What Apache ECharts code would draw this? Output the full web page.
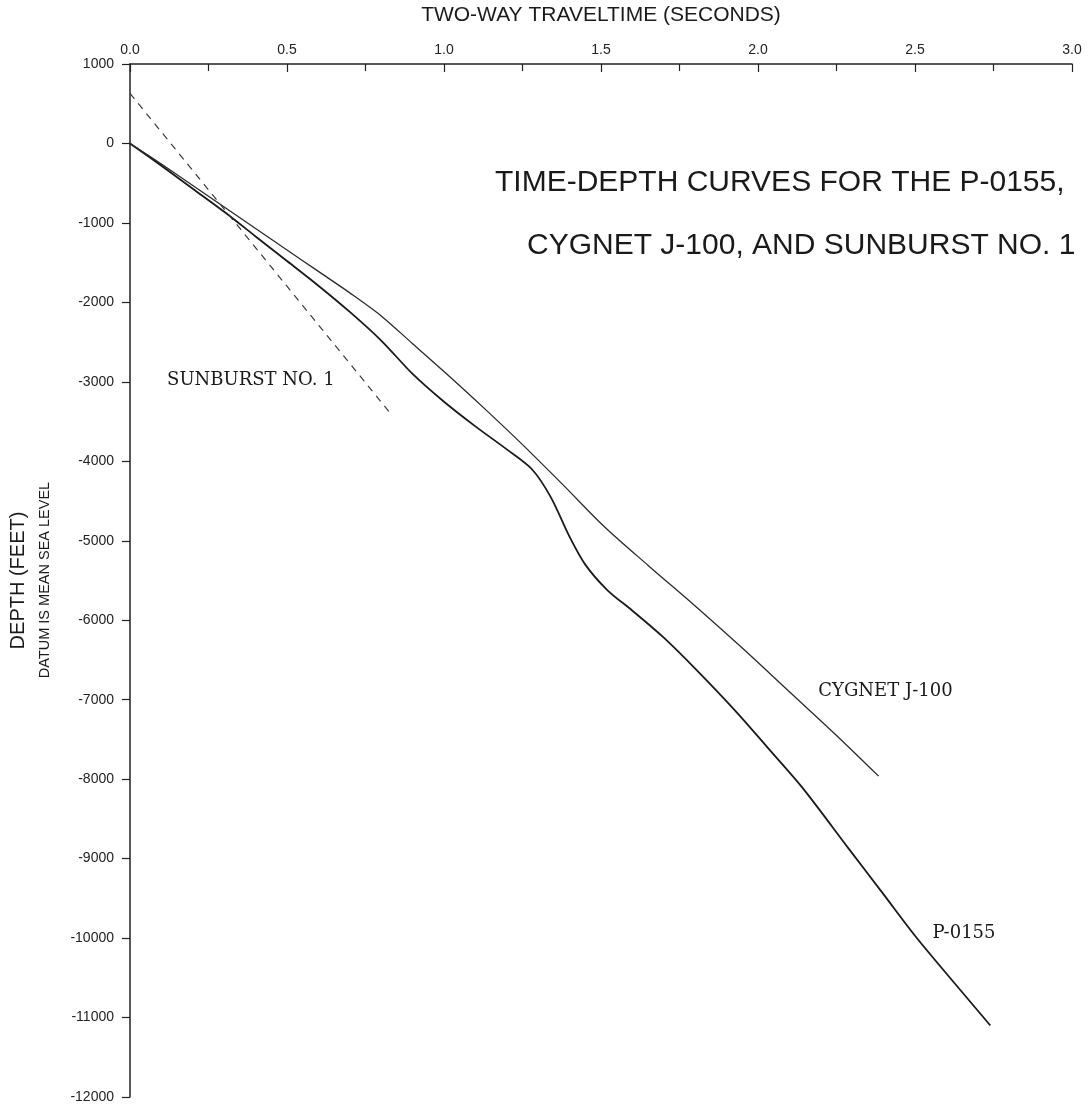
<!DOCTYPE html>
<html>
<head>
<meta charset="utf-8">
<style>
  html, body { margin: 0; padding: 0; background: #ffffff; }
  #chart { width: 1088px; height: 1104px; }
</style>
<script src="https://cdn.jsdelivr.net/npm/echarts@6/dist/echarts.min.js"></script>
</head>
<body>
<div id="chart"></div>
<script>
// ---- data (two-way traveltime in seconds, depth in feet relative to MSL) ----
const xTicks = [0, 0.5, 1.0, 1.5, 2.0, 2.5, 3.0];
const yTicks = [1000, 0, -1000, -2000, -3000, -4000, -5000, -6000, -7000, -8000, -9000, -10000, -11000, -12000];

const p0155Time  = [0, 0.10, 0.20, 0.30, 0.40, 0.50, 0.60, 0.70, 0.80, 0.90, 1.00, 1.10, 1.20, 1.28, 1.34, 1.40, 1.45, 1.52, 1.60, 1.70, 1.80, 1.93, 2.03, 2.14, 2.29, 2.40, 2.50, 2.62, 2.74];
const p0155Depth = [0, -280, -570, -860, -1170, -1480, -1790, -2120, -2480, -2900, -3250, -3560, -3850, -4100, -4450, -4950, -5300, -5620, -5880, -6220, -6610, -7150, -7600, -8100, -8880, -9450, -9970, -10540, -11100];

const cygnetTime  = [0, 0.10, 0.20, 0.30, 0.40, 0.50, 0.60, 0.70, 0.80, 0.90, 1.00, 1.13, 1.25, 1.38, 1.51, 1.65, 1.80, 1.95, 2.10, 2.25, 2.384];
const cygnetDepth = [0, -260, -530, -800, -1070, -1340, -1610, -1880, -2170, -2520, -2870, -3340, -3790, -4300, -4820, -5310, -5820, -6350, -6900, -7450, -7962];

const sunburstTime  = [0, 0.83];
const sunburstDepth = [630, -3400];

const seriesNames = ['P-0155', 'CYGNET J-100', 'SUNBURST NO. 1'];

const zip = (a, b) => a.map((v, i) => [v, b[i]]);

const chart = echarts.init(document.getElementById('chart'), null, { renderer: 'canvas' });

const sansFont = '"Liberation Sans", Arial, Helvetica, sans-serif';
const serifFont = '"DejaVu Serif", "Liberation Serif", serif';

function labelPoint(coord, text) {
  return {
    coord: coord,
    symbol: 'circle',
    symbolSize: 1,
    itemStyle: { color: 'rgba(0,0,0,0)' },
    label: {
      show: true, position: 'inside', formatter: text,
      fontFamily: serifFont, fontSize: 18, color: '#1a1a1a'
    }
  };
}

const option = {
  backgroundColor: '#ffffff',
  animation: false,
  grid: { left: 123, right: 16, top: 58, bottom: 6, containLabel: false },
  xAxis: {
    type: 'value',
    position: 'top',
    min: xTicks[0], max: xTicks[xTicks.length - 1], interval: 0.5,
    name: 'TWO-WAY TRAVELTIME (SECONDS)',
    nameLocation: 'middle', nameGap: 38,
    nameTextStyle: { fontFamily: sansFont, fontSize: 21, color: '#1a1a1a' },
    axisLine: { show: true, onZero: false, lineStyle: { color: '#222', width: 1.5 } },
    axisTick: { show: true, inside: true, length: 8, lineStyle: { color: '#222', width: 1.2 } },
    minorTick: { show: true, splitNumber: 2, length: 7, lineStyle: { color: '#222', width: 1.2 } },
    axisLabel: { margin: 7, fontFamily: sansFont, fontSize: 14, color: '#222',
      formatter: v => v.toFixed(1) },
    splitLine: { show: false }
  },
  yAxis: {
    type: 'value',
    min: yTicks[yTicks.length - 1], max: yTicks[0], interval: 1000,
    name: 'DEPTH (FEET)',
    nameLocation: 'middle', nameGap: 102, nameRotate: 90,
    nameTextStyle: { fontFamily: sansFont, fontSize: 20, color: '#1a1a1a' },
    axisLine: { show: true, onZero: false, lineStyle: { color: '#222', width: 1.5 } },
    axisTick: { show: true, inside: false, length: 8, lineStyle: { color: '#222', width: 1.2 } },
    axisLabel: { margin: 16, fontFamily: sansFont, fontSize: 14, color: '#222',
      formatter: v => String(v) },
    splitLine: { show: false }
  },
  graphic: [
    { type: 'text', left: 495, top: 168,
      style: { text: 'TIME-DEPTH CURVES FOR THE P-0155,', font: '30px ' + sansFont, fill: '#1a1a1a' } },
    { type: 'text', left: 527, top: 231,
      style: { text: 'CYGNET J-100, AND SUNBURST NO. 1', font: '30px ' + sansFont, fill: '#1a1a1a' } },
    { type: 'text', x: 45, y: 580, rotation: Math.PI / 2,
      style: { text: 'DATUM IS MEAN SEA LEVEL', font: '14.5px ' + sansFont, fill: '#1a1a1a',
        align: 'center', verticalAlign: 'middle' } }
  ],
  series: [
    {
      name: seriesNames[0], type: 'line', data: zip(p0155Time, p0155Depth),
      showSymbol: false, smooth: 0.3,
      lineStyle: { color: '#1a1a1a', width: 1.8 },
      markPoint: { silent: true, data: [labelPoint([2.656, -9940], seriesNames[0])] }
    },
    {
      name: seriesNames[1], type: 'line', data: zip(cygnetTime, cygnetDepth),
      showSymbol: false, smooth: 0.3,
      lineStyle: { color: '#2a2a2a', width: 1.3 },
      markPoint: { silent: true, data: [labelPoint([2.406, -6900], seriesNames[1])] }
    },
    {
      name: seriesNames[2], type: 'line', data: zip(sunburstTime, sunburstDepth),
      showSymbol: false,
      lineStyle: { color: '#3a3a3a', width: 1.2, type: [7, 6] },
      markPoint: { silent: true, data: [labelPoint([0.385, -2975], seriesNames[2])] }
    }
  ]
};

chart.setOption(option);
</script>
</body>
</html>
